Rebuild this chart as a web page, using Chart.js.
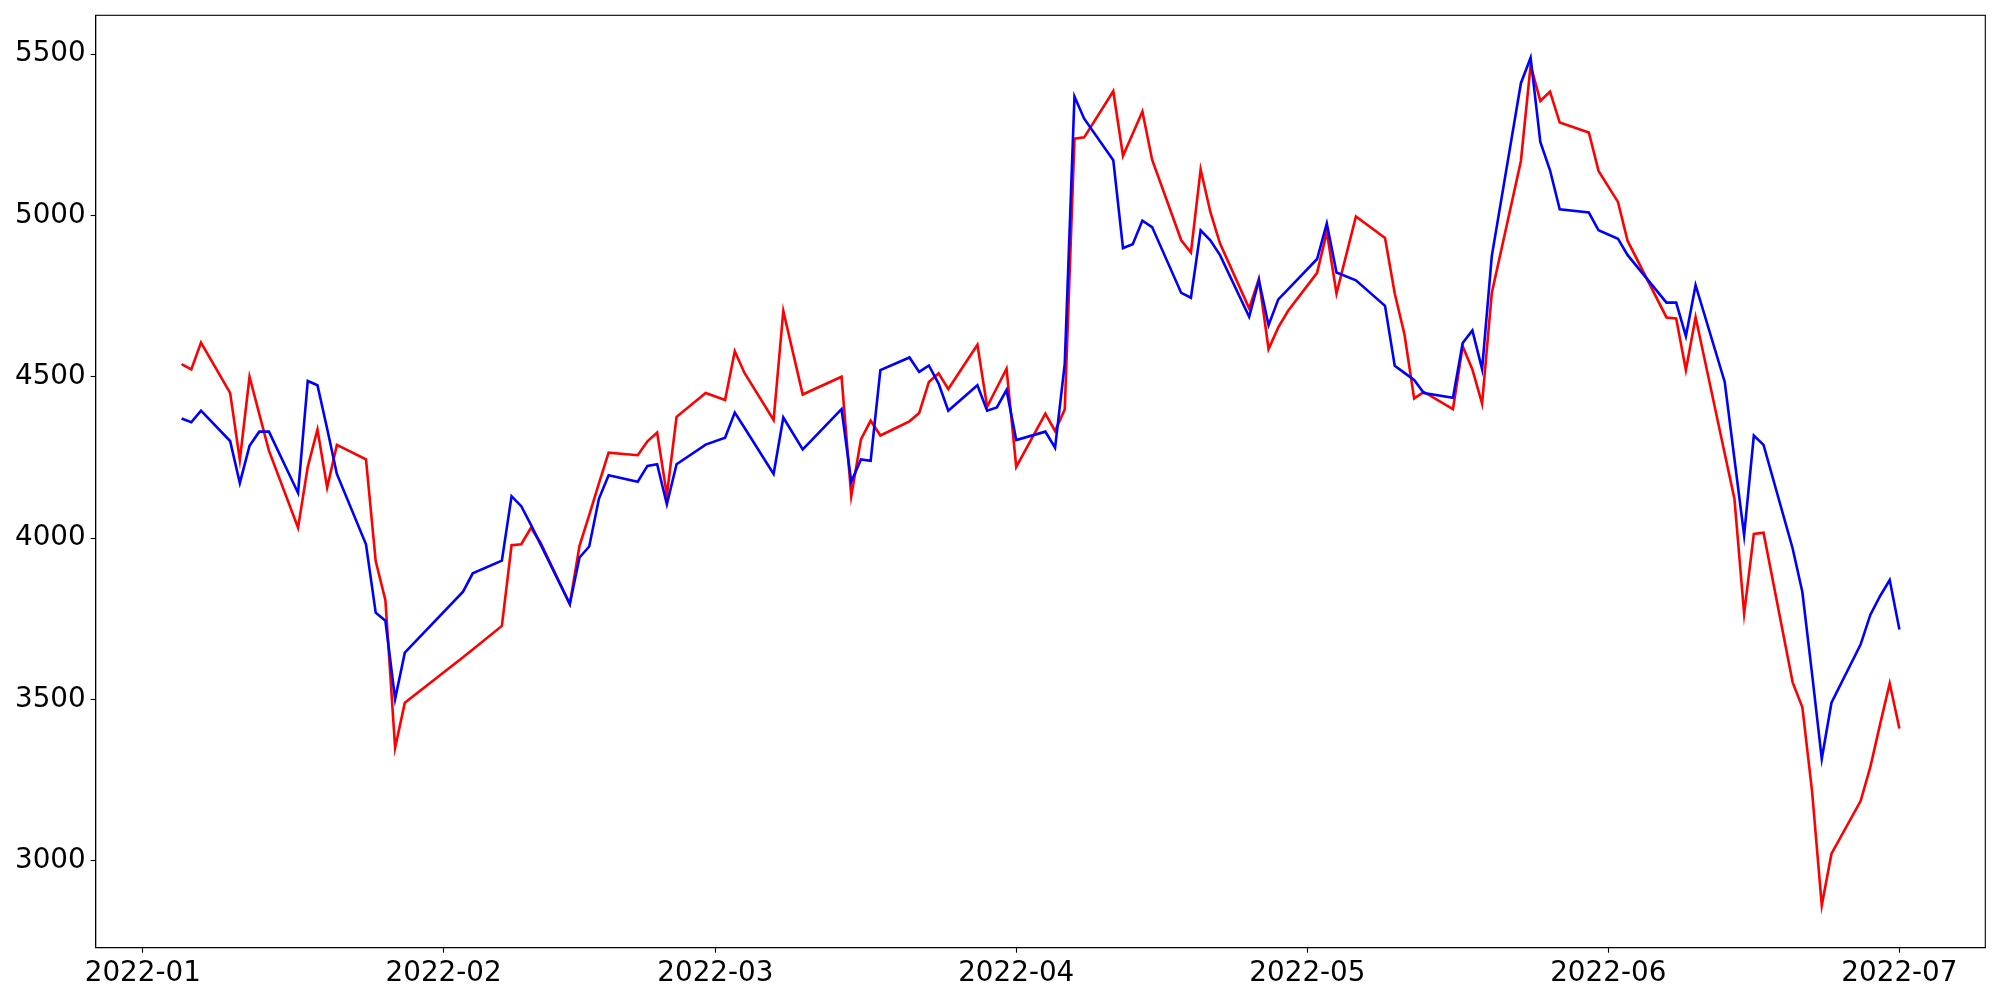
<!DOCTYPE html>
<html>
<head>
<meta charset="utf-8">
<script src="https://cdn.jsdelivr.net/npm/chart.js@4.4.1/dist/chart.umd.min.js"></script>
<style>
  html, body { margin: 0; padding: 0; background: #fff; }
  #wrap { width: 2000px; height: 1000px; }
</style>
</head>
<body>
<div id="wrap"><canvas id="chart" width="2000" height="1000"></canvas></div>
<script>
const dates = [
    '2022-01-05','2022-01-06','2022-01-07','2022-01-10','2022-01-11','2022-01-12','2022-01-13','2022-01-14',
    '2022-01-17','2022-01-18','2022-01-19','2022-01-20','2022-01-21','2022-01-24','2022-01-25','2022-01-26',
    '2022-01-27','2022-01-28',
    '2022-02-03','2022-02-04','2022-02-07','2022-02-08','2022-02-09','2022-02-10','2022-02-11','2022-02-14',
    '2022-02-15','2022-02-16','2022-02-17','2022-02-18','2022-02-21','2022-02-22','2022-02-23','2022-02-24',
    '2022-02-25','2022-02-28',
    '2022-03-02','2022-03-03','2022-03-04','2022-03-07','2022-03-08','2022-03-10','2022-03-11','2022-03-14',
    '2022-03-15','2022-03-16','2022-03-17','2022-03-18','2022-03-21','2022-03-22','2022-03-23','2022-03-24',
    '2022-03-25','2022-03-28','2022-03-29','2022-03-30','2022-03-31',
    '2022-04-01','2022-04-04','2022-04-05','2022-04-06','2022-04-07','2022-04-08','2022-04-11','2022-04-12',
    '2022-04-13','2022-04-14','2022-04-15','2022-04-18','2022-04-19','2022-04-20','2022-04-21','2022-04-22',
    '2022-04-25','2022-04-26','2022-04-27','2022-04-28','2022-04-29',
    '2022-05-02','2022-05-03','2022-05-04','2022-05-06','2022-05-09','2022-05-10','2022-05-11','2022-05-12',
    '2022-05-13','2022-05-16','2022-05-17','2022-05-18','2022-05-19','2022-05-20','2022-05-23','2022-05-24',
    '2022-05-25','2022-05-26','2022-05-27','2022-05-30','2022-05-31',
    '2022-06-02','2022-06-03','2022-06-07','2022-06-08','2022-06-09','2022-06-10','2022-06-13','2022-06-14',
    '2022-06-15','2022-06-16','2022-06-17','2022-06-20','2022-06-21','2022-06-22','2022-06-23','2022-06-24',
    '2022-06-27','2022-06-28','2022-06-29','2022-06-30',
    '2022-07-01'
]

// red line
const series1 = [
    4539,4523,4606,4450,4242,4500,4385,4271,4032,4221,4337,4157,4289,4244,3929,3808,3350,3490,
    3631,3655,3728,3978,3981,4032,3985,3796,3976,4071,4170,4265,4257,4300,4327,4133,4376,4450,
    4428,4579,4512,4366,4704,4445,4459,4500,4130,4306,4364,4318,4362,4388,4484,4511,4462,4599,4407,4466,4525,
    4221,4386,4332,4399,5238,5242,5385,5185,5253,5322,5173,4923,4885,5143,5011,4913,4712,4803,4586,4653,4704,
    4822,4949,4758,4997,4930,4758,4632,4433,4453,4400,4595,4523,4417,4760,5169,5465,5355,5384,5288,5257,5138,
    5042,4921,4684,4681,4521,4685,4262,4122,3766,4013,4017,3553,3476,3215,2862,3022,3185,3290,3422,3550,
    3410
]

// blue line
const series2 = [
    4371,4359,4395,4301,4171,4286,4330,4330,4140,4487,4474,4339,4199,3981,3769,3744,3501,3645,
    3834,3891,3930,4130,4099,4041,3980,3796,3940,3974,4122,4195,4175,4224,4229,4105,4229,4290,
    4311,4389,4342,4199,4374,4275,4306,4400,4175,4244,4240,4521,4560,4515,4535,4479,4395,4474,4395,4405,4459,
    4304,4330,4280,4541,5369,5300,5171,4899,4911,4984,4964,4760,4745,4954,4923,4877,4686,4799,4660,4740,4771,
    4865,4975,4823,4799,4720,4534,4512,4490,4450,4435,4605,4644,4524,4874,5410,5489,5228,5140,5019,5009,4954,
    4928,4877,4730,4730,4626,4784,4484,4246,4009,4318,4289,3968,3833,3579,3316,3490,3670,3762,3820,3870,
    3717
]

const xTickLabels = ['2022-01','2022-02','2022-03','2022-04','2022-05','2022-06','2022-07']
const yTicks = [3000,3500,4000,4500,5000,5500]

// days since 2022-01-01
const dayOf = s => {
    const [y, m, d] = s.split('-').map(Number)
    return (Date.UTC(y, m - 1, d || 1) - Date.UTC(2022, 0, 1)) / 86400000
}

const xs = dates.map(dayOf)
const pad = (lo, hi) => [lo - (hi - lo) * 0.05, hi + (hi - lo) * 0.05]
const [xMin, xMax] = pad(Math.min(...xs), Math.max(...xs))
const allVals = series1.concat(series2)
const [yMin, yMax] = pad(Math.min(...allVals), Math.max(...allVals))

const font = { family: 'DejaVu Sans', size: 27.8 }

// matplotlib-like box around the plot
const frame = {
    id: 'frame',
    afterDraw(c) {
        const a = c.chartArea
        const ctx = c.ctx
        ctx.save()
        ctx.strokeStyle = '#000'
        ctx.lineWidth = 1.1
        ctx.strokeRect(a.left, a.top, a.right - a.left, a.bottom - a.top)
        ctx.restore()
    }
}

const chart = document.querySelector('#chart').getContext('2d')

new Chart(chart, {
    type: 'line',
    data: {
        datasets: [
            {
                label: 'series2',
                data: xs.map((x, i) => ({ x: x, y: series2[i] })),
                borderColor: '#0000ff',
                borderWidth: 2.6,
                order: 0
            },
            {
                label: 'series1',
                data: xs.map((x, i) => ({ x: x, y: series1[i] })),
                borderColor: '#ff0000',
                borderWidth: 2.6,
                order: 1
            }
        ]
    },
    options: {
        responsive: false,
        animation: false,
        elements: { point: { radius: 0 }, line: { tension: 0 } },
        layout: { padding: { left: 0, top: 15.3, right: 14.7, bottom: 0 } },
        plugins: { legend: { display: false }, tooltip: { enabled: false } },
        scales: {
            x: {
                type: 'linear',
                min: xMin,
                max: xMax,
                afterFit: s => {
                    s.height = 52.3
                    s.paddingLeft = 0
                    s.paddingRight = 0
                },
                afterBuildTicks: s => { s.ticks = xTickLabels.map(l => ({ value: dayOf(l) })) },
                grid: { drawOnChartArea: false, tickLength: 5, tickWidth: 1.1, tickColor: '#000' },
                border: { display: true, color: '#000', width: 1.1 },
                ticks: {
                    color: '#000',
                    font: font,
                    padding: 4,
                    maxRotation: 0,
                    autoSkip: false,
                    callback: (v, i) => xTickLabels[i]
                }
            },
            y: {
                type: 'linear',
                min: yMin,
                max: yMax,
                afterFit: s => {
                    s.width = 95.7
                    s.paddingTop = 0
                    s.paddingBottom = 0
                },
                afterBuildTicks: s => { s.ticks = yTicks.map(v => ({ value: v })) },
                grid: { drawOnChartArea: false, tickLength: 5, tickWidth: 1.1, tickColor: '#000' },
                border: { display: true, color: '#000', width: 1.1 },
                ticks: {
                    color: '#000',
                    font: font,
                    padding: 5,
                    autoSkip: false,
                    callback: v => String(v)
                }
            }
        }
    },
    plugins: [frame]
})
</script>
</body>
</html>
